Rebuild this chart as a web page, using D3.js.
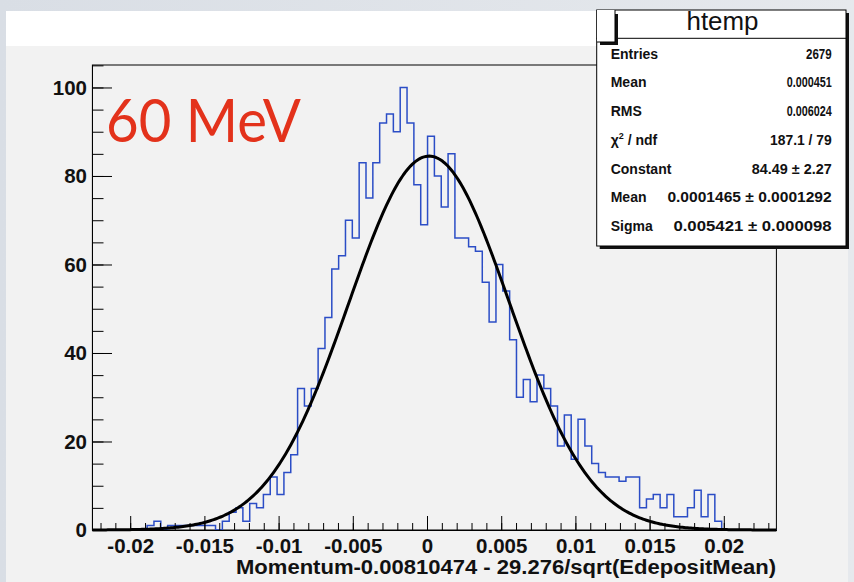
<!DOCTYPE html>
<html><head><meta charset="utf-8">
<script src="https://cdn.jsdelivr.net/npm/d3@7"></script>
<style>
html,body{margin:0;padding:0;background:#dfe3e8;}
svg{display:block;}
</style></head><body>
<svg id="c" width="854" height="582"></svg>
<script>
// ---------------- data ----------------
const binCounts = [
  0,0,0,0,0,0,0,0,1,2,
  0,1,1,1,1,1,1,1,0,2,
  4,5,2,6,5,8,12,8,13,17,
  32,28,32,41,48,59,62,70,66,83,
  75,83,92,94,90,100,92,78,69,89,
  80,73,85,66,66,64,63,56,47,60,
  54,43,30,34,29,35,32,28,19,26,
  16,25,19,15,13,12,12,11,12,12,
  5,7,8,5,8,3,3,5,9,3,
  8,2,0,0,0,0,0,0,0,0
];
const histRange = [-0.022547, 0.023544];
const xTickValues = [-0.02,-0.015,-0.01,-0.005,0,0.005,0.01,0.015,0.02];
const xTickLabels = ["-0.02","-0.015","-0.01","-0.005","0","0.005","0.01","0.015","0.02"];
const yTickValues = [0,20,40,60,80,100];
const yTickLabels = ["0","20","40","60","80","100"];
const yMax = 105.08;
const fitConstant = 84.49, fitMean = 0.0001465, fitSigma = 0.005421;
const histName = "htemp";
const statLabels = ["Entries","Mean","RMS","chi2","Constant","Mean","Sigma"];
const statValues = ["2679","0.000451","0.006024","187.1 / 79","84.49 \u00b1 2.27","0.0001465 \u00b1 0.0001292","0.005421 \u00b1 0.000098"];
const xTitle = "Momentum-0.00810474 - 29.276/sqrt(EdepositMean)";
const annotation = "60 MeV";

// ---------------- layout ----------------
const svg = d3.select("#c");
const F = "'Liberation Sans', Arial, Helvetica, sans-serif";
const FN = "'Liberation Sans Narrow', 'Liberation Sans', Arial, sans-serif";
const frame = {l: 92.4, r: 776.4, t: 65, b: 530};

const defs = svg.append("defs");
const grad = defs.append("linearGradient").attr("id","bg").attr("x1","0").attr("y1","0").attr("x2","1").attr("y2","0");
grad.append("stop").attr("offset","0").attr("stop-color","#d9dee5");
grad.append("stop").attr("offset","1").attr("stop-color","#e6e9ed");
svg.append("rect").attr("width",854).attr("height",582).attr("fill","url(#bg)");

// canvas
svg.append("rect").attr("x",6).attr("y",46).attr("width",842).attr("height",536).attr("fill","#f2f2f2");
svg.append("rect").attr("x",6).attr("y",11).attr("width",592).attr("height",35).attr("fill","#ffffff");

const x = d3.scaleLinear().domain(histRange).range([frame.l, frame.r]);
const y = d3.scaleLinear().domain([0, yMax]).range([frame.b, frame.t]);

// frame
svg.append("rect").attr("x",frame.l).attr("y",frame.t).attr("width",frame.r-frame.l).attr("height",frame.b-frame.t)
  .attr("fill","#f2f2f2").attr("stroke","#000").attr("stroke-width",1);

// histogram step outline
const nb = binCounts.length;
const bw = (histRange[1]-histRange[0])/nb;
const pts = [[histRange[0],0]];
binCounts.forEach((c,i)=>{ pts.push([histRange[0]+i*bw, c]); pts.push([histRange[0]+(i+1)*bw, c]); });
pts.push([histRange[1],0]);
svg.append("path").attr("d", d3.line().x(d=>x(d[0])).y(d=>y(d[1]))(pts))
  .attr("fill","none").attr("stroke","#2b4dc6").attr("stroke-width",1.5);

// fit function (gaussian with fitted parameters)
const fx = d3.range(0,401).map(k=>histRange[0]+k*(histRange[1]-histRange[0])/400);
svg.append("path").attr("d", d3.line().x(d=>x(d)).y(d=>y(fitConstant*Math.exp(-0.5*Math.pow((d-fitMean)/fitSigma,2))))(fx))
  .attr("fill","none").attr("stroke","#000").attr("stroke-width",3).attr("stroke-linejoin","round");

// axes
const xMinor = d3.range(-22,24).map(k=>k/1000);
const yMinor = d3.range(0,106,5);
const gxm = svg.append("g").attr("transform",`translate(0,${frame.b})`)
  .call(d3.axisBottom(x).tickValues(xMinor).tickFormat("").tickSizeInner(-7).tickSizeOuter(0));
const gx = svg.append("g").attr("transform",`translate(0,${frame.b})`)
  .call(d3.axisBottom(x).tickValues(xTickValues).tickFormat((d,i)=>xTickLabels[i]).tickSizeInner(-14).tickSizeOuter(0).tickPadding(8));
const gym = svg.append("g").attr("transform",`translate(${frame.l-0.4},0)`)
  .call(d3.axisLeft(y).tickValues(yMinor).tickFormat("").tickSizeInner(-11.5).tickSizeOuter(0));
const gy = svg.append("g").attr("transform",`translate(${frame.l-0.4},0)`)
  .call(d3.axisLeft(y).tickValues(yTickValues).tickFormat((d,i)=>yTickLabels[i]).tickSizeInner(-20).tickSizeOuter(0).tickPadding(5));
[gxm,gx,gym,gy].forEach(g=>{
  g.selectAll("line").attr("stroke","#000");
  g.select(".domain").attr("stroke","#000");
  g.selectAll("text").attr("font-family",F).attr("font-weight","bold").attr("font-size",20.5).attr("fill","#111");
});

svg.append("text").attr("x",776).attr("y",574).attr("text-anchor","end")
  .attr("font-family",F).attr("font-weight","bold").attr("font-size",20).attr("fill","#111")
  .attr("textLength",540).attr("lengthAdjust","spacingAndGlyphs").text(xTitle);

// annotation
svg.append("text").attr("x",106).attr("y",141.7).attr("font-family","Lato, 'Open Sans', sans-serif")
  .attr("font-size",60).attr("fill","#e3321b").attr("textLength",195).attr("lengthAdjust","spacingAndGlyphs").text(annotation);

// stats box
const sb = {l:596.7, t:10, r:846, b:246};
svg.append("rect").attr("x",sb.l+3).attr("y",sb.t+3).attr("width",sb.r-sb.l).attr("height",sb.b-sb.t).attr("fill","#111");
svg.append("rect").attr("x",sb.l).attr("y",sb.t).attr("width",sb.r-sb.l).attr("height",sb.b-sb.t).attr("fill","#ffffff").attr("stroke","#000").attr("stroke-width",1);
svg.append("line").attr("x1",sb.l).attr("x2",sb.r).attr("y1",38.3).attr("y2",38.3).attr("stroke","#000");
svg.append("text").attr("x",722.5).attr("y",29.5).attr("text-anchor","middle").attr("font-family",FN).attr("font-size",25)
  .attr("fill","#111").attr("textLength",72).attr("lengthAdjust","spacingAndGlyphs").text(histName);
const valueWidths = [25.7,45,45,61.7,80,164.3,158.3];
statLabels.forEach((lab,i)=>{
  const yy = 58.7 + i*28.75;
  const t = svg.append("text").attr("x",610.7).attr("y",yy).attr("font-family",F).attr("font-weight","bold").attr("font-size",14).attr("fill","#111");
  if(lab==="chi2"){
    t.append("tspan").text("\u03c7");
    t.append("tspan").attr("font-size",9).attr("dy",-6).text("2");
    t.append("tspan").attr("dy",6).text(" / ndf");
  } else t.text(lab);
  svg.append("text").attr("x",831.7).attr("y",yy).attr("text-anchor","end").attr("font-family",FN).attr("font-weight","bold")
    .attr("font-size",14.5).attr("fill","#111").attr("textLength",valueWidths[i]).attr("lengthAdjust","spacingAndGlyphs").text(statValues[i]);
});

// title box corner (partially hidden pave)
svg.append("rect").attr("x",600).attr("y",14).attr("width",18).attr("height",31).attr("fill","#111");
svg.append("rect").attr("x",597).attr("y",10).attr("width",18).attr("height",32).attr("fill","#fff");
svg.append("line").attr("x1",615).attr("x2",615).attr("y1",10).attr("y2",42).attr("stroke","#000");
svg.append("line").attr("x1",597).attr("x2",615).attr("y1",42).attr("y2",42).attr("stroke","#000");
</script>
</body></html>
